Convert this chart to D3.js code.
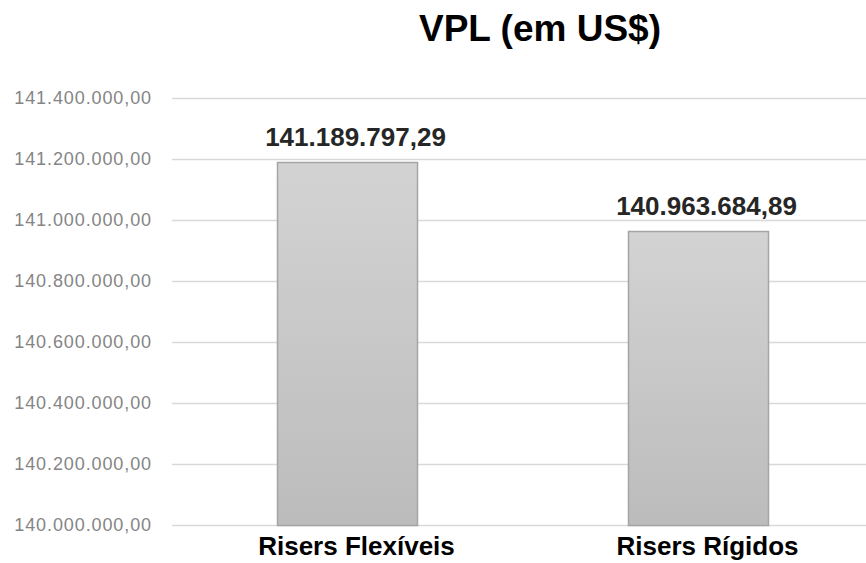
<!DOCTYPE html>
<html>
<head>
<meta charset="utf-8">
<script src="https://cdn.jsdelivr.net/npm/d3@7"></script>
<style>
  html, body { margin: 0; padding: 0; background: #fff; }
  svg { display: block; }
</style>
</head>
<body>
<div id="chart"></div>
<script>
// VPL chart: two bars, truncated y axis (140M–141.4M)
const categories = ['Risers Flexíveis', 'Risers Rígidos'];
const values = [141189797.29, 140963684.89];
const yTicks = [140000000, 140200000, 140400000, 140600000, 140800000, 141000000, 141200000, 141400000];
const title = 'VPL (em US$)';

const W = 866, H = 563;
const FONT = '"Liberation Sans", Arial, sans-serif';

// pt-BR number format: 141.189.797,29
const fmt = d3.formatLocale({ decimal: ',', thousands: '.', grouping: [3], currency: ['US$', ''] }).format(',.2f');

const svg = d3.select('#chart').append('svg')
  .attr('width', W)
  .attr('height', H)
  .attr('viewBox', `0 0 ${W} ${H}`);

const defs = svg.append('defs');
const grad = defs.append('linearGradient')
  .attr('id', 'barGrad')
  .attr('x1', 0).attr('y1', 0).attr('x2', 0).attr('y2', 1);
grad.append('stop').attr('offset', '0%').attr('stop-color', '#d3d3d3');
grad.append('stop').attr('offset', '100%').attr('stop-color', '#bcbcbc');

// plot area runs a bit past the right edge, bars sit at ~277 and ~627
const x = d3.scaleBand()
  .domain(categories)
  .range([172, 874])
  .paddingInner(0.6)
  .paddingOuter(0.3);

const y = d3.scaleLinear()
  .domain([140000000, 141400000])
  .range([525, 98]);

// gridlines
svg.append('g')
  .selectAll('line')
  .data(yTicks)
  .join('line')
  .attr('x1', 172)
  .attr('x2', W)
  .attr('y1', d => Math.round(y(d)) + 0.5)
  .attr('y2', d => Math.round(y(d)) + 0.5)
  .attr('stroke', '#d9d9d9')
  .attr('stroke-width', 1.5);

// y axis labels (no domain line, no tick marks)
const yAxis = svg.append('g')
  .attr('transform', 'translate(152,0)')
  .call(d3.axisLeft(y).tickValues(yTicks).tickSize(0).tickPadding(0).tickFormat(fmt));
yAxis.select('.domain').remove();
yAxis.selectAll('text')
  .attr('font-family', FONT)
  .attr('font-size', 18)
  .attr('letter-spacing', 0.9)
  .attr('fill', '#858585');

// bars
svg.append('g')
  .selectAll('rect')
  .data(values)
  .join('rect')
  .attr('x', (d, i) => Math.round(x(categories[i])) + 0.5)
  .attr('y', d => Math.round(y(d)) + 0.5)
  .attr('width', Math.round(x.bandwidth()))
  .attr('height', d => Math.round(y(140000000)) - Math.round(y(d)))
  .attr('fill', 'url(#barGrad)')
  .attr('stroke', '#a5a5a5')
  .attr('stroke-width', 1.5);

// value labels
svg.append('g')
  .selectAll('text')
  .data(values)
  .join('text')
  .attr('x', (d, i) => x(categories[i]) + x.bandwidth() / 2 + 8)
  .attr('y', d => y(d) - 16)
  .attr('text-anchor', 'middle')
  .attr('font-family', FONT)
  .attr('font-weight', 'bold')
  .attr('font-size', 26)
  .attr('fill', '#262626')
  .text(d => fmt(d));

// category labels
svg.append('g')
  .selectAll('text')
  .data(categories)
  .join('text')
  .attr('x', d => x(d) + x.bandwidth() / 2 + 9)
  .attr('y', 555)
  .attr('text-anchor', 'middle')
  .attr('font-family', FONT)
  .attr('font-weight', 'bold')
  .attr('font-size', 26)
  .attr('fill', '#000')
  .text(d => d);

// title
svg.append('text')
  .attr('x', 540)
  .attr('y', 41)
  .attr('text-anchor', 'middle')
  .attr('font-family', FONT)
  .attr('font-weight', 'bold')
  .attr('font-size', 37)
  .attr('fill', '#000')
  .text(title);
</script>
</body>
</html>
